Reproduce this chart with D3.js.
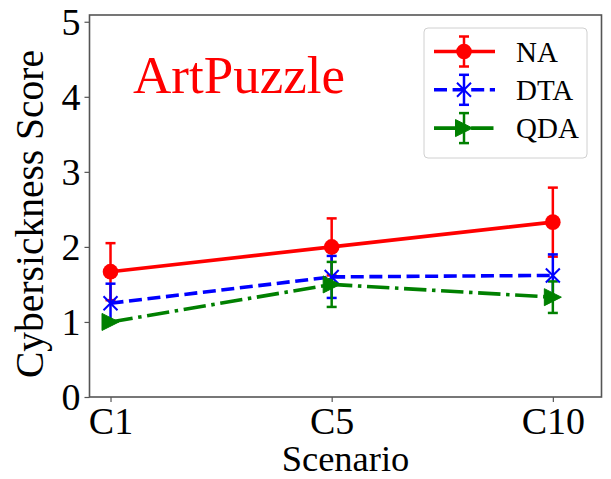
<!DOCTYPE html>
<html>
<head>
<meta charset="utf-8">
<script src="https://cdn.jsdelivr.net/npm/d3@7/dist/d3.min.js"></script>
<style>
  html, body { margin: 0; padding: 0; background: #fff; }
  svg { display: block; }
</style>
</head>
<body>
<svg id="chart" width="611" height="479"></svg>
<script>
// Scenarios on the x axis
const scenarios = ["C1", "C5", "C10"];
// Mean cybersickness score per scenario, with its error (± std)
const naMean  = [1.67, 2.00, 2.33];
const naErr   = [0.38, 0.38, 0.46];
const dtaMean = [1.25, 1.60, 1.62];
const dtaErr  = [0.26, 0.28, 0.28];
const qdaMean = [1.00, 1.50, 1.33];
const qdaErr  = [0.00, 0.30, 0.21];
const yTicks  = [0, 1, 2, 3, 4, 5];

const SERIF = "'Liberation Serif', 'Times New Roman', 'DejaVu Serif', serif";

const series = [
  { name: "NA",  mean: naMean,  err: naErr,  color: "#ff0000", dash: null,               marker: "circle" },
  { name: "DTA", mean: dtaMean, err: dtaErr, color: "#0000ff", dash: "13,5.6",           marker: "x" },
  { name: "QDA", mean: qdaMean, err: qdaErr, color: "#008000", dash: "22.4,5.6,3.5,5.6", marker: "tri" }
];

const svg = d3.select("#chart");
const plotL = 89.5, plotR = 601.5, plotT = 15, plotB = 397;

const x = d3.scaleLinear().domain([-0.095, 2.22]).range([plotL, plotR]);
const y = d3.scaleLinear().domain([0, 5.09]).range([plotB, plotT]);

// Axes: ticks outward, frame drawn afterwards
const axisColor = "#555";
const yAxis = svg.append("g").attr("transform", `translate(${plotL},0)`)
  .call(d3.axisLeft(y).tickValues(yTicks).tickFormat(d3.format("d")).tickSize(5).tickPadding(4));
const xAxis = svg.append("g").attr("transform", `translate(0,${plotB})`)
  .call(d3.axisBottom(x).tickValues(scenarios.map((d, i) => i)).tickFormat(i => scenarios[i]).tickSize(5).tickPadding(6));
[yAxis, xAxis].forEach(g => {
  g.attr("font-family", SERIF).attr("font-size", 38);
  g.select(".domain").remove();
  g.selectAll(".tick line").attr("stroke", axisColor).attr("stroke-width", 1.2);
  g.selectAll(".tick text").attr("fill", "#000")
    .attr("font-family", SERIF).style("font-family", SERIF).style("font-size", "38px");
});
yAxis.selectAll(".tick text").attr("dy", "0.33em");
xAxis.selectAll(".tick text").attr("dy", "0.68em");

// Marker drawing helper
function drawMarker(g, kind, cx, cy, color) {
  if (kind === "circle") {
    g.append("circle").attr("cx", cx).attr("cy", cy).attr("r", 7.8).attr("fill", color);
  } else if (kind === "x") {
    const s = 7;
    g.append("path").attr("d", `M${cx - s},${cy - s}L${cx + s},${cy + s}M${cx - s},${cy + s}L${cx + s},${cy - s}`)
      .attr("stroke", color).attr("stroke-width", 2).attr("fill", "none");
  } else {
    const s = 8.5;
    g.append("path").attr("d", `M${cx + s},${cy}L${cx - s},${cy - s}L${cx - s},${cy + s}Z`)
      .attr("fill", color).attr("stroke", color).attr("stroke-width", 1);
  }
}

function drawErr(g, cx, y0, y1, color) {
  const cap = 5;
  g.append("line").attr("x1", cx).attr("x2", cx).attr("y1", y0).attr("y2", y1)
    .attr("stroke", color).attr("stroke-width", 2.5);
  [y0, y1].forEach(yy => g.append("line").attr("x1", cx - cap).attr("x2", cx + cap)
    .attr("y1", yy).attr("y2", yy).attr("stroke", color).attr("stroke-width", 2.5));
}

const plot = svg.append("g");

// Error bars sit beneath the data lines
series.forEach(s => {
  s.mean.forEach((m, i) => {
    if (s.err[i] > 0) drawErr(plot, x(i), y(m + s.err[i]), y(m - s.err[i]), s.color);
  });
});

// Lines with markers
const line = d3.line().x((d, i) => x(i)).y(d => y(d));
series.forEach(s => {
  plot.append("path").datum(s.mean).attr("d", line)
    .attr("fill", "none").attr("stroke", s.color).attr("stroke-width", 3.6)
    .attr("stroke-dasharray", s.dash);
  s.mean.forEach((m, i) => drawMarker(plot, s.marker, x(i), y(m), s.color));
});

// Frame
svg.append("rect").attr("x", plotL).attr("y", plotT).attr("width", plotR - plotL).attr("height", plotB - plotT)
  .attr("fill", "none").attr("stroke", axisColor).attr("stroke-width", 1.6);

function addText(sel, size) {
  return sel.append("text").attr("font-family", SERIF).style("font-family", SERIF)
    .style("font-size", size + "px").attr("fill", "#000");
}

// Axis titles
addText(svg, 36.5).attr("x", (plotL + plotR) / 2).attr("y", 471).attr("text-anchor", "middle")
  .text("Scenario");
addText(svg, 39.5).attr("transform", `translate(43,214) rotate(-90)`)
  .attr("text-anchor", "middle").text("Cybersickness Score");

// In-plot title
addText(svg, 53).attr("x", 133).attr("y", 93).attr("fill", "#ff0000").text("ArtPuzzle");

// Legend
const lg = svg.append("g");
lg.append("rect").attr("x", 424).attr("y", 28).attr("width", 163).attr("height", 130)
  .attr("rx", 4).attr("fill", "#fff").attr("fill-opacity", 0.8).attr("stroke", "#d0d0d0").attr("stroke-width", 1);
series.forEach((s, k) => {
  const cy = 51.5 + k * 38.3;
  const g = lg.append("g");
  drawErr(g, 464, cy - 15, cy + 15, s.color);
  g.append("line").attr("x1", 434).attr("x2", 495).attr("y1", cy).attr("y2", cy)
    .attr("stroke", s.color).attr("stroke-width", 3.6).attr("stroke-dasharray", s.dash);
  drawMarker(g, s.marker, 464, cy, s.color);
  addText(g, 29).attr("x", 516).attr("y", cy + 10).text(s.name);
});
</script>
</body>
</html>
